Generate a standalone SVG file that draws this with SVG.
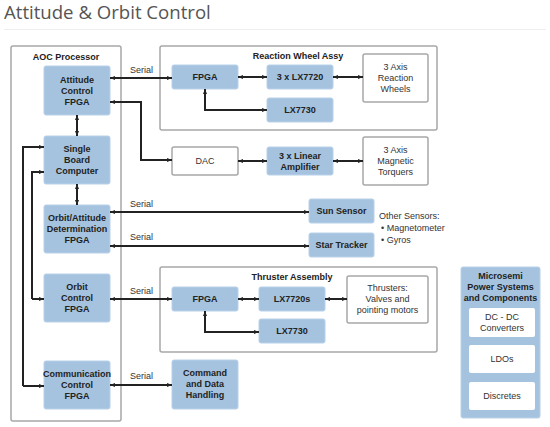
<svg xmlns="http://www.w3.org/2000/svg" width="550" height="427" viewBox="0 0 550 427">
<defs>
<marker id="ah" viewBox="0 0 10 10" refX="10" refY="5" markerWidth="5" markerHeight="5" orient="auto-start-reverse" markerUnits="userSpaceOnUse">
<path d="M0,1 L10,5 L0,9 z" fill="#222"/>
</marker>
<style>
.title{font-family:"Open Sans","Liberation Sans",sans-serif;font-size:18.6px;fill:#555}
.grp{fill:#fff;stroke:#a8a8a8;stroke-width:1.5}
.blue{fill:#a5c3df;stroke:#b8d0e8;stroke-width:1}
.white{fill:#fff;stroke:#a8a8a8;stroke-width:1.5}
.wbox{fill:#fff;stroke:none}
.b{font-family:"Liberation Sans",Arial,sans-serif;font-size:9px;font-weight:bold;fill:#222;text-anchor:middle}
.r{font-family:"Liberation Sans",Arial,sans-serif;font-size:9px;fill:#333;text-anchor:middle}
.l{font-family:"Liberation Sans",Arial,sans-serif;font-size:9px;fill:#333}
.c{fill:none;stroke:#222;stroke-width:2}
.cs{fill:none;stroke:#222;stroke-width:2;marker-end:url(#ah)}
.cd{fill:none;stroke:#222;stroke-width:2;marker-start:url(#ah);marker-end:url(#ah)}
</style>
</defs>
<rect width="550" height="427" fill="#fff"/>
<text class="title" x="4" y="19">Attitude &amp; Orbit Control</text>
<line x1="4" y1="29.5" x2="546" y2="29.5" stroke="#eee" stroke-width="1"/>

<g id="aoc-processor">
<rect class="grp" x="11" y="46" width="110" height="375" rx="2"/>
<text class="b" x="66" y="60">AOC Processor</text>
</g>
<g id="rw-assy">
<rect class="grp" x="160" y="46" width="277" height="84" rx="2"/>
<text class="b" x="298" y="59">Reaction Wheel Assy</text>
</g>
<g id="thruster-assy">
<rect class="grp" x="160" y="267" width="277" height="85" rx="2"/>
<text class="b" x="292" y="280">Thruster Assembly</text>
</g>

<g id="attitude-control-fpga">
<rect class="blue" x="44" y="66" width="66" height="49" rx="2"/>
<text class="b" x="77" y="83">Attitude</text>
<text class="b" x="77" y="94">Control</text>
<text class="b" x="77" y="105">FPGA</text>
</g>
<g id="single-board-computer">
<rect class="blue" x="44" y="136" width="66" height="48" rx="2"/>
<text class="b" x="77" y="152">Single</text>
<text class="b" x="77" y="163">Board</text>
<text class="b" x="77" y="174">Computer</text>
</g>
<g id="orbit-attitude-determination-fpga">
<rect class="blue" x="44" y="205" width="66" height="48" rx="2"/>
<text class="b" x="77" y="221">Orbit/Attitude</text>
<text class="b" x="77" y="232">Determination</text>
<text class="b" x="77" y="243">FPGA</text>
</g>
<g id="orbit-control-fpga">
<rect class="blue" x="44" y="274" width="66" height="48" rx="2"/>
<text class="b" x="77" y="290">Orbit</text>
<text class="b" x="77" y="301">Control</text>
<text class="b" x="77" y="312">FPGA</text>
</g>
<g id="communication-control-fpga">
<rect class="blue" x="44" y="361" width="66" height="48" rx="2"/>
<text class="b" x="77" y="377">Communication</text>
<text class="b" x="77" y="388">Control</text>
<text class="b" x="77" y="399">FPGA</text>
</g>

<g id="rw-fpga">
<rect class="blue" x="172" y="65" width="66" height="24" rx="2"/>
<text class="b" x="205" y="80">FPGA</text>
</g>
<g id="rw-lx7720">
<rect class="blue" x="267" y="65" width="66" height="24" rx="2"/>
<text class="b" x="300" y="80">3 x LX7720</text>
</g>
<g id="rw-lx7730">
<rect class="blue" x="267" y="98" width="66" height="24" rx="2"/>
<text class="b" x="300" y="113">LX7730</text>
</g>
<g id="reaction-wheels">
<rect class="white" x="363" y="54" width="65" height="48" rx="2"/>
<text class="r" x="395.5" y="70">3 Axis</text>
<text class="r" x="395.5" y="81">Reaction</text>
<text class="r" x="395.5" y="92">Wheels</text>
</g>
<g id="dac">
<rect class="white" x="172" y="147" width="66" height="28" rx="2"/>
<text class="r" x="205" y="164">DAC</text>
</g>
<g id="linear-amplifier">
<rect class="blue" x="267" y="147" width="66" height="28" rx="2"/>
<text class="b" x="300" y="159">3 x Linear</text>
<text class="b" x="300" y="170">Amplifier</text>
</g>
<g id="magnetic-torquers">
<rect class="white" x="363" y="137" width="65" height="48" rx="2"/>
<text class="r" x="395.5" y="153">3 Axis</text>
<text class="r" x="395.5" y="164">Magnetic</text>
<text class="r" x="395.5" y="175">Torquers</text>
</g>

<g id="sun-sensor">
<rect class="blue" x="309" y="199" width="65" height="24" rx="2"/>
<text class="b" x="341.5" y="214">Sun Sensor</text>
</g>
<g id="star-tracker">
<rect class="blue" x="309" y="233" width="65" height="24" rx="2"/>
<text class="b" x="341.5" y="248">Star Tracker</text>
</g>
<g id="other-sensors">
<text class="l" x="379" y="219">Other Sensors:</text>
<text class="l" x="381" y="231">• Magnetometer</text>
<text class="l" x="381" y="243">• Gyros</text>
</g>

<g id="th-fpga">
<rect class="blue" x="172" y="287" width="66" height="24" rx="2"/>
<text class="b" x="205" y="302">FPGA</text>
</g>
<g id="th-lx7720s">
<rect class="blue" x="259" y="287" width="66" height="24" rx="2"/>
<text class="b" x="292" y="302">LX7720s</text>
</g>
<g id="th-lx7730">
<rect class="blue" x="259" y="319" width="66" height="24" rx="2"/>
<text class="b" x="292" y="334">LX7730</text>
</g>
<g id="thrusters">
<rect class="white" x="347" y="276" width="81" height="47" rx="2"/>
<text class="r" x="387.5" y="291">Thrusters:</text>
<text class="r" x="387.5" y="302">Valves and</text>
<text class="r" x="387.5" y="313">pointing motors</text>
</g>

<g id="command-data-handling">
<rect class="blue" x="172" y="360" width="66" height="49" rx="2"/>
<text class="b" x="205" y="376">Command</text>
<text class="b" x="205" y="387">and Data</text>
<text class="b" x="205" y="398">Handling</text>
</g>

<g id="microsemi">
<rect class="blue" x="461" y="267" width="79" height="151" rx="2"/>
<text class="b" x="500.5" y="279">Microsemi</text>
<text class="b" x="500.5" y="290">Power Systems</text>
<text class="b" x="500.5" y="301">and Components</text>
<g id="dc-dc">
<rect class="wbox" x="469" y="308" width="66" height="29" rx="2"/>
<text class="r" x="502" y="320">DC - DC</text>
<text class="r" x="502" y="331">Converters</text>
</g>
<g id="ldos">
<rect class="wbox" x="469" y="345" width="66" height="28" rx="2"/>
<text class="r" x="502" y="362">LDOs</text>
</g>
<g id="discretes">
<rect class="wbox" x="469" y="382" width="66" height="28" rx="2"/>
<text class="r" x="502" y="399">Discretes</text>
</g>
</g>

<g id="connectors">
<path class="cd" d="M110,78 H172"/>
<path class="cd" d="M110,102 H141 V160 H172"/>
<path class="cd" d="M77,115 V136"/>
<path class="cd" d="M77,184 V205"/>
<path class="cs" d="M23,386 V147 H44"/>
<path class="cs" d="M32,299 V172 H44"/>
<path class="cs" d="M32,299 H44"/>
<path class="cs" d="M23,386 H44"/>
<path class="cd" d="M110,212 H309"/>
<path class="cd" d="M110,246 H309"/>
<path class="cd" d="M110,299 H172"/>
<path class="cd" d="M110,385 H172"/>
<path class="cd" d="M238,77 H267"/>
<path class="cd" d="M333,77 H363"/>
<path class="cd" d="M205,89 V110 H267"/>
<path class="cd" d="M238,161 H267"/>
<path class="cd" d="M333,161 H363"/>
<path class="cd" d="M238,299 H259"/>
<path class="cd" d="M325,299 H347"/>
<path class="cd" d="M205,311 V332 H259"/>
<text class="l" x="130" y="73">Serial</text>
<text class="l" x="130" y="207">Serial</text>
<text class="l" x="130" y="240">Serial</text>
<text class="l" x="130" y="294">Serial</text>
<text class="l" x="130" y="379">Serial</text>
</g>
</svg>
